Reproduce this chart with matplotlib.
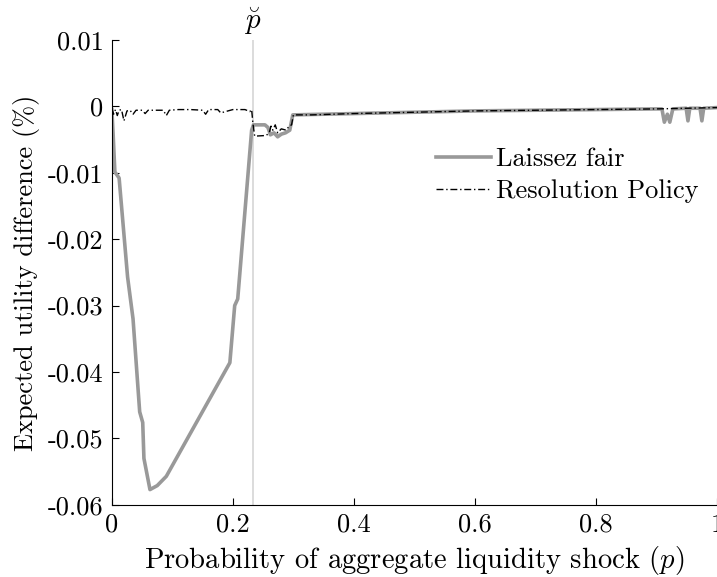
import matplotlib
matplotlib.use("Agg")
import matplotlib.pyplot as plt

plt.rcParams['font.family'] = ['cmr10', 'DejaVu Serif']
plt.rcParams['mathtext.fontset'] = 'cm'
plt.rcParams['axes.unicode_minus'] = False

# Laissez fair series
lf_x = [0.0, 0.002, 0.005, 0.012, 0.026, 0.035, 0.046, 0.051, 0.053, 0.063, 0.075, 0.09,
        0.195, 0.203, 0.208, 0.231, 0.234, 0.253, 0.258, 0.262, 0.268, 0.274, 0.280,
        0.287, 0.294, 0.299, 0.35, 0.4, 0.5, 0.6, 0.7, 0.8, 0.9, 0.909, 0.913, 0.918,
        0.922, 0.927, 0.949, 0.952, 0.955, 0.972, 0.975, 0.978, 1.0]
lf_y = [-0.0005, -0.004, -0.0099, -0.0108, -0.0257, -0.032, -0.046, -0.0476, -0.053, -0.0577,
        -0.0571, -0.0557, -0.0386, -0.030, -0.029, -0.0036, -0.0028, -0.0028, -0.0032, -0.0043,
        -0.0040, -0.0046, -0.0042, -0.0040, -0.0036, -0.0013, -0.0012, -0.0011, -0.0009, -0.0007,
        -0.0006, -0.0005, -0.0004, -0.0004, -0.0024, -0.0012, -0.0024, -0.0004, -0.0003, -0.0022,
        -0.0003, -0.0003, -0.0022, -0.0003, -0.0002]

# Resolution Policy series
rp_x = [0.0, 0.003, 0.006, 0.009, 0.012, 0.016, 0.02, 0.025, 0.03, 0.035, 0.04, 0.05,
        0.055, 0.06, 0.07, 0.085, 0.09, 0.095, 0.11, 0.13, 0.15, 0.155, 0.16, 0.175,
        0.18, 0.2, 0.22, 0.228, 0.231, 0.233, 0.236, 0.255, 0.26, 0.263, 0.266, 0.27,
        0.274, 0.28, 0.288, 0.293, 0.297, 0.30, 0.33, 0.4, 0.5, 0.6, 0.7, 0.8, 0.9, 1.0]
rp_y = [-0.0003, -0.0012, -0.0005, -0.0014, -0.0006, -0.0005, -0.0022, -0.0007, -0.0006,
        -0.0012, -0.0006, -0.0006, -0.0011, -0.0006, -0.0006, -0.0006, -0.0014, -0.0006,
        -0.0005, -0.0005, -0.0006, -0.0012, -0.0005, -0.0005, -0.0010, -0.0005, -0.0005,
        -0.0008, -0.0005, -0.0025, -0.0045, -0.0044, -0.0040, -0.0030, -0.0036, -0.0028,
        -0.0040, -0.0034, -0.0036, -0.0030, -0.0028, -0.0013, -0.0013, -0.0011, -0.0009,
        -0.0007, -0.0006, -0.0005, -0.0004, -0.0002]

p_breve = 0.233

x_ticks = [0, 0.2, 0.4, 0.6, 0.8, 1]
x_labels = ['0', '0.2', '0.4', '0.6', '0.8', '1']
y_ticks = [0.01, 0, -0.01, -0.02, -0.03, -0.04, -0.05, -0.06]
y_labels = ['0.01', '0', '-0.01', '-0.02', '-0.03', '-0.04', '-0.05', '-0.06']

fig = plt.figure(figsize=(7.17, 5.77), dpi=100)
ax = fig.add_axes([0.156, 0.125, 0.844, 0.806])

ax.axvline(p_breve, color='#d9d9d9', lw=1.3, zorder=1)
ax.plot(lf_x, lf_y, color='#999999', lw=2.6, label='Laissez fair', zorder=2,
        solid_joinstyle='round')
ax.plot(rp_x, rp_y, color='black', lw=1.0, ls='-.', label='Resolution Policy', zorder=3,
        dashes=(5, 2, 1, 2))

ax.set_xlim(0, 1)
ax.set_ylim(-0.06, 0.01)
ax.set_xticks(x_ticks)
ax.set_xticklabels(x_labels)
ax.set_yticks(y_ticks)
ax.set_yticklabels(y_labels)
ax.tick_params(direction='in', length=5, width=0.8, labelsize=19)
ax.tick_params(axis='x', pad=6)
ax.tick_params(axis='y', pad=6)
ax.spines['top'].set_visible(False)
ax.spines['right'].set_visible(False)

ax.set_xlabel(r'Probability of aggregate liquidity shock $(p)$', fontsize=20.6, labelpad=5)
ax.set_ylabel('Expected utility difference (%)', fontsize=19, labelpad=6)

ax.text(p_breve, 1.006, r'$\breve{p}$', transform=ax.get_xaxis_transform(),
        ha='center', va='bottom', fontsize=21)

leg = ax.legend(loc='center left', bbox_to_anchor=(0.535, 0.709), frameon=False,
                fontsize=19, handlelength=2.1, handletextpad=0.2, labelspacing=0.3,
                borderaxespad=0, borderpad=0)

fig.savefig('out.png', dpi=100)
